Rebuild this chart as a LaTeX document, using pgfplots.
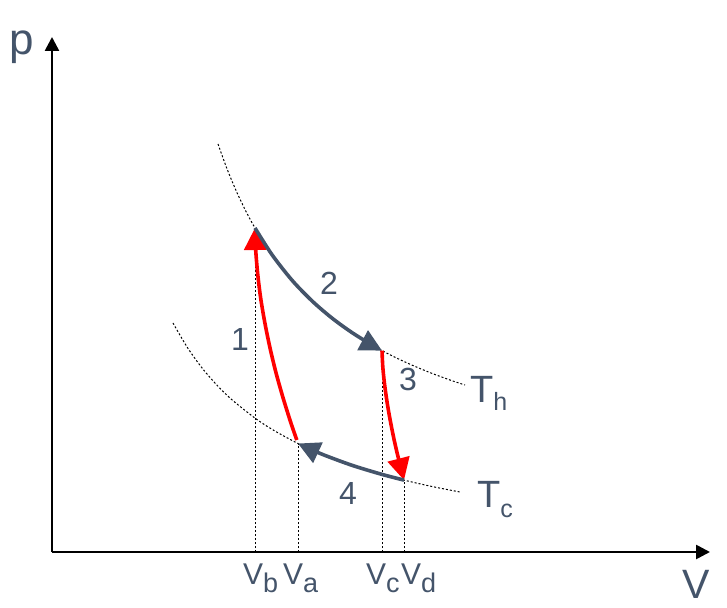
\documentclass[border=0pt]{standalone}
\usepackage{pgfplots}
\pgfplotsset{compat=1.18}
\usepackage{fontspec}
\setmainfont{Liberation Sans}
\usetikzlibrary{arrows.meta}
\definecolor{slate}{RGB}{68,84,106}
\definecolor{myred}{RGB}{255,0,0}
\begin{document}
\begin{tikzpicture}
\begin{axis}[
  scale only axis, width=658pt, height=515pt,
  xmin=0, xmax=658, ymin=0, ymax=515,
  axis lines=left,
  axis line style={line width=2.6pt, -{Triangle[length=14pt,width=14pt]}},
  xtick=\empty, ytick=\empty,
  clip=false,
  dotstyle/.style={black, line width=1pt, dash pattern=on 2pt off 2pt},
]
% isotherm T_h
\addplot[dotstyle, smooth] coordinates {(166,408.0) (175,383.2) (185,359.3) (195,338.6) (205,320.6) (220,297.3) (240,271.8) (260,251.1) (280,233.9) (300,219.4) (320,207.0) (340,196.2) (360,186.9) (380,178.6) (400,171.3) (413,167.0)};
% isotherm T_c
\addplot[dotstyle, smooth] coordinates {(121,229.0) (135,205.1) (150,184.1) (165,166.8) (180,152.2) (203,133.9) (220,122.7) (245,109.0) (270,97.8) (300,86.7) (330,77.6) (354,71.4) (380,65.5) (408,60.0)};
% volume markers
\addplot[dotstyle] coordinates {(203,0) (203,324)};
\addplot[dotstyle] coordinates {(246,0) (246,108.5)};
\addplot[dotstyle] coordinates {(330,0) (330,201.4)};
\addplot[dotstyle] coordinates {(352,0) (352,71.9)};
% process 1 (adiabatic compression)
\addplot[myred, line width=3.6pt, smooth, -{Triangle[length=22pt,width=22pt]}] coordinates {(244.8,112) (238.6,130) (230.8,155) (223.8,180) (217.8,205) (212.7,230) (208.5,255) (205.5,280) (203.5,305) (203,324)};
% process 2 (isothermal expansion)
\addplot[slate, line width=3.6pt, smooth, -{Triangle[length=22pt,width=22pt]}] coordinates {(203,324) (220,297.3) (240,271.8) (260,251.1) (280,233.9) (300,219.4) (320,207.0) (330,201.4)};
% process 3 (adiabatic expansion)
\addplot[myred, line width=3.6pt, smooth, -{Triangle[length=22pt,width=22pt]}] coordinates {(330,201.4) (330.8,185) (332.3,170) (334.3,155) (336.7,140) (339.5,125) (342.6,110) (346.1,95) (352,71.9)};
% process 4 (isothermal compression)
\addplot[slate, line width=3.6pt, smooth, -{Triangle[length=22pt,width=22pt]}] coordinates {(352,71.9) (330,77.6) (300,86.7) (270,97.8) (246,108.5)};
% labels
\node[anchor=base west, inner sep=0, text=slate, font=\fontsize{44}{44}\selectfont] at (axis cs:-43,497) {p};
\node[anchor=base west, inner sep=0, text=slate, font=\fontsize{41}{41}\selectfont] at (axis cs:630,-46) {V};
\node[anchor=base, inner sep=0, text=slate, font=\fontsize{32}{32}\selectfont] at (axis cs:188,201) {1};
\node[anchor=base, inner sep=0, text=slate, font=\fontsize{32}{32}\selectfont] at (axis cs:277,257) {2};
\node[anchor=base, inner sep=0, text=slate, font=\fontsize{32}{32}\selectfont] at (axis cs:356,161) {3};
\node[anchor=base, inner sep=0, text=slate, font=\fontsize{32}{32}\selectfont] at (axis cs:296,48) {4};
\node[anchor=base west, inner sep=0, text=slate] at (axis cs:418,149) {\fontsize{38}{38}\selectfont T\raisebox{-8pt}{\fontsize{25}{25}\selectfont h}};
\node[anchor=base west, inner sep=0, text=slate] at (axis cs:425,45) {\fontsize{38}{38}\selectfont T\raisebox{-10pt}{\fontsize{25}{25}\selectfont c}};
\node[anchor=base west, inner sep=0, text=slate] at (axis cs:191,-32) {\fontsize{30}{30}\selectfont V\raisebox{-8pt}{\fontsize{27}{27}\selectfont b}};
\node[anchor=base west, inner sep=0, text=slate] at (axis cs:231,-32) {\fontsize{30}{30}\selectfont V\raisebox{-8pt}{\fontsize{27}{27}\selectfont a}};
\node[anchor=base west, inner sep=0, text=slate] at (axis cs:314,-32) {\fontsize{30}{30}\selectfont V\raisebox{-8pt}{\fontsize{27}{27}\selectfont c}};
\node[anchor=base west, inner sep=0, text=slate] at (axis cs:349,-32) {\fontsize{30}{30}\selectfont V\raisebox{-8pt}{\fontsize{27}{27}\selectfont d}};
\coordinate (BL) at (axis cs:-52,-55);
\coordinate (TR) at (axis cs:675,552);
\end{axis}
\pgfresetboundingbox
\path[use as bounding box] (BL) rectangle (TR);
\end{tikzpicture}
\end{document}
